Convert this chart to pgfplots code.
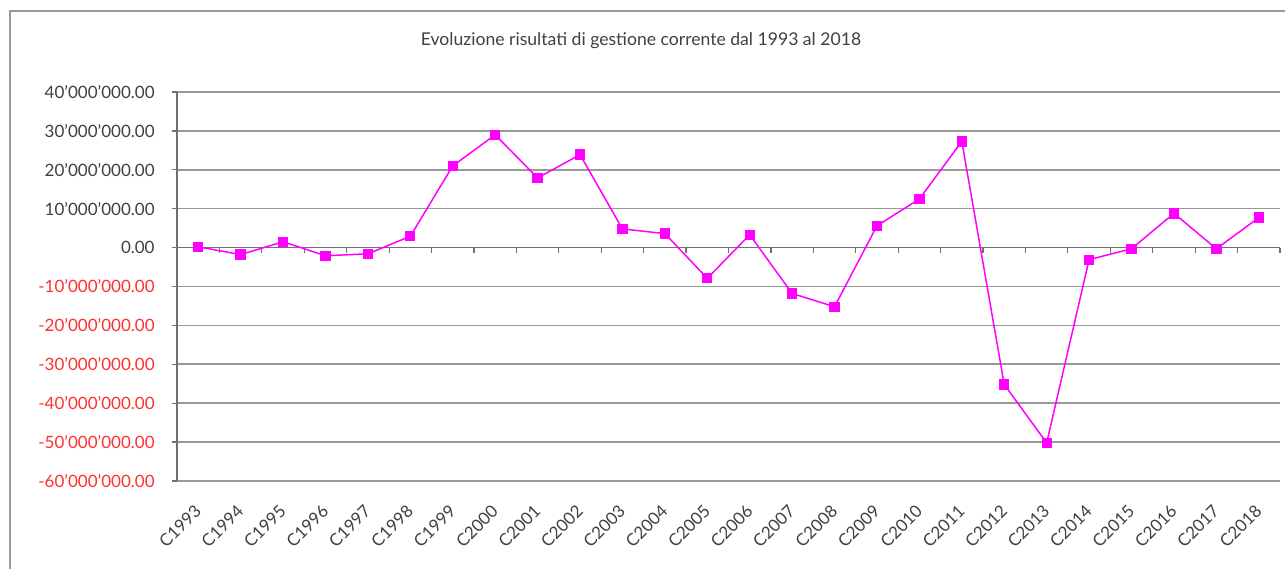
\documentclass[border=0pt]{standalone}
\usepackage{pgfplots}
\pgfplotsset{compat=1.18}
\usepackage{fontspec}
\setmainfont{Lato}

\definecolor{linemag}{HTML}{FF00FF}
\definecolor{gridgray}{HTML}{999999}
\definecolor{axisgray}{HTML}{707070}
\definecolor{labgray}{HTML}{404040}
\definecolor{negred}{HTML}{FF3030}

\begin{document}
\begin{tikzpicture}
\useasboundingbox (-88.5pt,-43.5pt) rectangle (554pt,240.5pt);
% outer chart frame
\draw[gridgray, line width=0.8pt] (-83.5pt,-60pt) -- (-83.5pt,235pt) -- (570pt,235pt);

\begin{axis}[
	scale only axis,
	width=551.5pt,
	height=194.5pt,
	xmin=-0.5, xmax=25.5,
	ymin=-60000000, ymax=40000000,
	scaled y ticks=false,
	axis x line*=bottom,
	axis y line*=left,
	x axis line style={draw=none},
	y axis line style={axisgray, line width=0.7pt},
	xtick=data,
	xtick style={draw=none},
	xticklabels={C1993,C1994,C1995,C1996,C1997,C1998,C1999,C2000,C2001,C2002,C2003,C2004,C2005,C2006,C2007,C2008,C2009,C2010,C2011,C2012,C2013,C2014,C2015,C2016,C2017,C2018},
	ytick={-60000000,-50000000,-40000000,-30000000,-20000000,-10000000,0,10000000,20000000,30000000,40000000},
	yticklabels={
		\textcolor{negred}{-60'000'000.00},
		\textcolor{negred}{-50'000'000.00},
		\textcolor{negred}{-40'000'000.00},
		\textcolor{negred}{-30'000'000.00},
		\textcolor{negred}{-20'000'000.00},
		\textcolor{negred}{-10'000'000.00},
		0.00,10'000'000.00,20'000'000.00,30'000'000.00,40'000'000.00},
	tick align=outside,
	major tick length=2.5pt,
	ytick style={axisgray, line width=0.7pt},
	ymajorgrids,
	grid style={gridgray, line width=0.8pt},
	yticklabel style={font=\fontsize{8.5}{10}\selectfont, color=labgray, anchor=east, inner sep=0pt, xshift=-8.5pt},
	xticklabel style={font=\fontsize{8.5}{10}\selectfont, color=labgray, yshift=-11pt, rotate=45, anchor=east, inner sep=0pt},
	clip=false,
]
% zero line with category separators
\draw[axisgray, line width=0.7pt] (axis cs:-0.5,0) -- (axis cs:25.5,0);
\pgfplotsinvokeforeach{0.5,1.5,2.5,3.5,4.5,5.5,6.5,7.5,8.5,9.5,10.5,11.5,12.5,13.5,14.5,15.5,16.5,17.5,18.5,19.5,20.5,21.5,22.5,23.5,24.5,25.5}{
	\draw[axisgray, line width=0.6pt] (axis cs:#1,0) -- ([yshift=-2.5pt]axis cs:#1,0);
}
\addplot[linemag, line width=0.75pt, mark=square*, mark size=2.2pt, mark options={solid, fill=linemag}] table {
x y
0 200000
1 -1800000
2 1500000
3 -2100000
4 -1600000
5 2900000
6 21000000
7 29000000
8 17900000
9 23900000
10 4800000
11 3600000
12 -7900000
13 3300000
14 -11800000
15 -15200000
16 5600000
17 12500000
18 27300000
19 -35200000
20 -50200000
21 -3100000
22 -300000
23 8800000
24 -300000
25 7700000
};
\end{axis}
\node[font=\fontsize{8.8}{10}\selectfont, text=labgray] at (232pt,220pt) {Evoluzione risultati di gestione corrente dal 1993 al 2018};
\end{tikzpicture}
\end{document}
